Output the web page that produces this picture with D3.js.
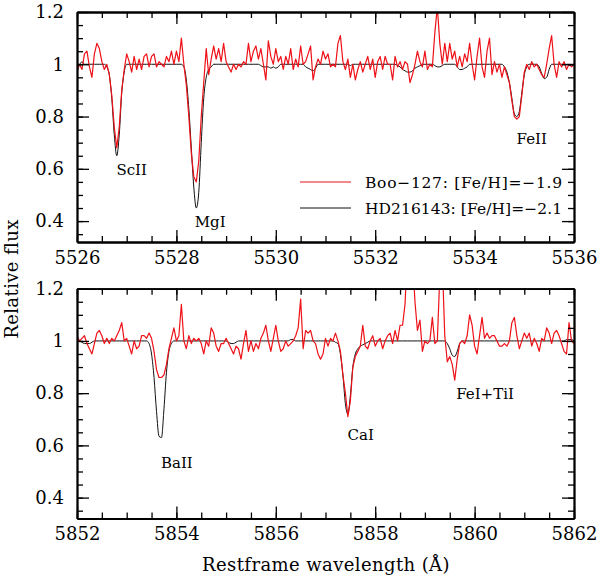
<!DOCTYPE html>
<html>
<head>
<meta charset="utf-8">
<script src="https://cdn.jsdelivr.net/npm/d3@7"></script>
<style>
  body { margin: 0; background: #fff; }
  svg text { font-family: "DejaVu Serif", serif; fill: #000; }
</style>
</head>
<body>
<script>
var step = 0.05;
var topStart = 5526, botStart = 5852;

// Boo-127, 5526-5536 A (one row per Angstrom)
var booTop = [
  0.97,1.00,0.98,1.04,1.05,0.99,0.95,1.04,1.08,1.06,1.01,0.98,1.00,0.96,0.88,0.76,0.68,0.76,0.90,0.98,
  1.04,1.01,0.97,1.03,0.98,1.02,0.98,1.03,1.04,0.99,1.03,1.04,0.99,1.01,1.00,0.99,1.03,1.01,1.05,1.00,
  1.05,1.01,1.10,1.00,0.92,0.80,0.66,0.57,0.55,0.63,0.80,0.93,1.06,0.96,1.02,1.07,1.02,1.06,1.01,1.08,
  1.01,0.99,0.97,1.00,0.98,1.00,0.99,1.01,1.00,1.08,1.01,1.05,1.07,1.02,1.06,1.00,0.94,1.09,1.03,1.00,
  1.06,1.01,1.03,0.98,1.03,1.00,1.06,0.98,1.02,0.99,1.07,1.00,1.01,1.04,1.07,0.94,0.99,1.02,1.00,1.05,
  1.02,1.04,0.99,1.00,0.99,1.08,1.11,1.01,0.98,1.02,0.95,1.00,0.94,0.98,1.01,0.97,1.00,1.03,0.98,1.02,
  0.95,1.01,1.03,0.98,1.03,1.00,1.00,0.94,1.03,0.99,1.01,0.98,1.01,1.00,0.93,0.96,1.00,1.05,1.01,0.99,
  1.05,0.98,1.00,0.99,1.12,1.22,1.08,1.00,1.08,1.01,1.08,1.02,1.05,0.99,1.03,0.99,1.04,1.01,1.08,1.00,
  0.94,1.03,1.10,0.99,0.95,1.05,1.10,0.96,1.01,0.97,1.00,0.95,0.99,0.96,0.93,0.86,0.80,0.79,0.80,0.88,
  0.97,1.00,0.98,1.01,0.99,1.00,0.98,0.96,0.95,1.00,1.06,1.11,1.00,0.95,1.01,0.99,1.01,0.98,1.00,0.99,
  1.00
];
// HD216143, 5526-5536 A
var hdTop = [
  1.00,1.00,1.01,1.00,1.00,1.00,1.00,1.00,1.00,1.00,1.00,1.00,0.99,0.96,0.87,0.73,0.65,0.73,0.89,0.97,
  1.00,1.00,1.00,1.00,1.00,1.00,1.00,1.00,1.00,1.00,1.00,1.00,1.00,1.00,1.00,1.00,1.00,1.00,1.00,1.00,
  1.00,1.00,1.00,0.99,0.94,0.83,0.68,0.53,0.45,0.51,0.70,0.87,0.95,0.98,0.99,1.00,1.00,1.00,1.00,1.00,
  1.00,1.00,1.00,1.00,1.00,1.00,1.00,1.00,1.00,1.00,1.00,1.00,1.00,1.00,0.995,0.99,0.99,0.99,0.985,0.99,
  0.985,0.99,1.00,1.00,1.00,1.00,1.00,1.00,1.00,1.00,1.00,1.00,0.99,0.985,0.98,0.975,0.985,1.00,1.00,1.00,
  1.00,1.00,1.00,1.00,1.00,1.00,1.00,1.00,1.00,1.00,0.995,1.00,1.00,1.00,1.00,1.00,1.00,1.00,1.00,1.00,
  1.00,1.00,1.00,1.00,1.00,1.00,1.00,1.00,1.00,0.995,0.99,0.98,0.975,0.97,0.97,0.975,0.985,0.99,0.995,1.00,
  1.00,1.00,1.00,1.00,0.995,0.99,0.99,0.995,1.00,1.00,1.00,1.00,1.00,0.99,0.98,0.98,0.985,0.99,1.00,1.00,
  1.00,1.00,1.00,1.00,1.00,1.00,1.00,1.00,1.00,1.00,1.00,1.00,0.99,0.97,0.93,0.87,0.81,0.80,0.82,0.89,
  0.96,0.99,1.00,1.00,1.00,1.00,0.99,0.965,0.945,0.95,0.98,1.00,1.00,1.00,1.00,1.00,1.00,1.00,1.00,1.00,
  1.00
];
// Boo-127, 5852-5862 A
var booBot = [
  1.02,1.00,1.01,1.02,0.99,0.97,0.95,0.99,1.03,1.04,1.02,0.99,1.01,0.99,1.01,1.00,1.02,1.04,1.07,1.00,
  1.01,0.98,0.95,1.00,0.97,0.98,1.02,1.02,1.01,1.03,1.01,0.96,0.89,0.86,0.86,0.87,0.91,0.97,1.01,1.05,
  1.00,1.02,1.14,1.00,0.97,1.02,0.99,1.01,1.00,1.01,0.99,0.95,1.00,0.98,1.05,1.03,0.98,0.96,0.99,0.99,
  1.01,0.99,0.97,0.95,0.98,0.97,0.93,0.99,1.04,0.96,1.00,0.96,0.99,0.97,1.01,1.03,1.06,1.00,0.96,1.01,
  1.06,1.00,0.96,0.97,1.00,0.98,0.99,1.00,1.02,1.05,1.16,0.97,1.04,1.03,1.04,1.00,0.99,0.95,0.93,0.95,
  1.01,0.98,1.01,1.00,1.03,1.00,0.96,0.87,0.80,0.71,0.77,0.90,0.94,0.96,0.98,1.06,0.98,0.97,1.00,1.02,
  0.98,1.00,1.01,0.97,1.00,1.02,1.03,0.99,1.04,1.00,1.06,1.06,1.14,1.35,1.30,1.33,1.15,1.04,1.08,0.96,
  1.00,0.99,1.00,1.09,0.99,1.00,1.25,1.30,1.02,0.92,0.94,0.91,0.85,0.93,0.99,1.00,0.99,1.02,1.10,1.06,
  0.98,0.95,1.02,1.09,1.01,1.03,1.01,1.02,1.02,1.00,0.98,0.98,0.99,0.98,1.00,1.07,1.09,1.02,0.97,1.00,
  1.03,1.01,1.03,0.98,1.01,0.99,0.96,1.01,1.00,1.05,1.03,0.99,1.03,1.04,1.02,0.99,0.96,0.95,1.07,1.00,
  0.99
];
// HD216143, 5852-5862 A
var hdBot = [
  1.01,1.00,0.995,0.99,0.99,0.99,0.995,1.00,1.00,1.00,1.00,1.00,1.00,1.00,1.00,1.00,1.00,1.00,1.00,1.00,
  1.00,1.00,1.00,1.00,1.00,1.00,1.00,1.00,1.00,0.99,0.95,0.86,0.73,0.635,0.63,0.74,0.88,0.96,0.99,1.00,
  1.00,1.00,1.00,1.00,1.00,1.00,1.00,1.00,1.00,1.00,1.00,1.00,1.00,1.00,1.00,1.00,1.00,1.00,1.00,1.00,
  1.00,0.995,0.99,0.99,0.995,1.00,1.00,1.00,1.00,1.00,1.00,1.00,1.00,1.00,1.00,1.00,1.00,1.00,1.00,1.00,
  1.00,1.00,1.00,1.00,1.00,1.00,1.005,1.005,1.00,1.00,1.00,1.00,1.00,1.00,1.00,1.00,1.00,1.00,1.00,1.00,
  1.00,1.00,1.00,1.00,0.995,0.99,0.95,0.87,0.76,0.72,0.79,0.90,0.95,0.97,0.98,0.985,0.99,0.995,1.00,1.00,
  1.00,1.00,1.00,1.00,1.00,1.00,1.00,1.00,1.00,1.00,1.00,1.00,1.00,1.00,1.00,1.00,1.00,1.00,1.00,1.00,
  1.00,1.00,1.00,1.00,1.00,1.00,1.00,1.00,1.00,0.99,0.97,0.945,0.94,0.96,0.99,1.00,1.00,1.00,1.00,1.00,
  1.00,1.00,1.00,1.00,1.00,1.00,1.00,1.00,1.00,1.00,1.00,1.00,1.00,1.00,1.00,1.00,1.00,1.00,1.00,1.00,
  1.00,1.00,1.00,1.00,1.00,1.00,1.00,1.00,1.00,1.00,1.00,1.00,1.00,1.00,1.00,1.00,1.00,1.005,1.005,1.005,
  1.00
];

// line identifications: label, wavelength and flux where the label sits
var topIds = ["ScII", "MgI", "FeII"];
var topIdWl = [5527.1, 5528.68, 5535.15];
var topIdFlux = [0.577, 0.378, 0.695];
var botIds = ["BaII", "CaI", "FeI+TiI"];
var botIdWl = [5854.01, 5857.71, 5860.21];
var botIdFlux = [0.515, 0.619, 0.779];

var legendLabels = ["Boo\u2212127: [Fe/H]=\u22121.9", "HD216143: [Fe/H]=\u22122.1"];
var yMajor = [0.4, 0.6, 0.8, 1, 1.2];

var W = 600, H = 578;
var left = 77, right = 574;
var red = "#ee1118";

var svg = d3.select("body").append("svg")
    .attr("width", W)
    .attr("height", H);

function drawPanel(start, boo, hd, ids, idWl, idFlux, top, bottom, name) {
  var x = d3.scaleLinear().domain([start, start + 10]).range([left, right]);
  var y = d3.scaleLinear().domain([0.32, 1.2]).range([bottom, top]);

  svg.append("clipPath").attr("id", "clip-" + name)
    .append("rect")
      .attr("x", left).attr("y", top)
      .attr("width", right - left).attr("height", bottom - top);

  var line = d3.line()
    .x(function(d, i) { return x(start + i * step); })
    .y(function(d) { return y(d); });

  var g = svg.append("g").attr("clip-path", "url(#clip-" + name + ")");
  g.append("path").datum(hd)
    .attr("fill", "none").attr("stroke", "#111").attr("stroke-width", 1)
    .attr("d", line.curve(d3.curveMonotoneX));
  g.append("path").datum(boo)
    .attr("fill", "none").attr("stroke", red).attr("stroke-width", 1.2)
    .attr("stroke-linejoin", "round")
    .attr("d", line.curve(d3.curveLinear));

  // ticks: major labelled, minor plain, all pointing inwards
  var xMajor = d3.range(0, 6).map(function(i) { return start + 2 * i; });
  var xMinor = d3.range(0, 21).map(function(i) { return start + 0.5 * i; });
  var yMinor = d3.range(7, 24).map(function(i) { return i * 0.05; });

  function styleAxis(sel) {
    sel.selectAll("path.domain").attr("stroke", "#000").attr("stroke-width", 1.8);
    sel.selectAll(".tick line").attr("stroke", "#000").attr("stroke-width", 1.3);
    sel.selectAll("text").attr("font-size", 18).attr("font-family", "DejaVu Serif");
  }

  svg.append("g").attr("transform", "translate(0," + bottom + ")")
    .call(d3.axisBottom(x).tickValues(xMinor).tickSizeInner(-6).tickSizeOuter(0).tickFormat(""))
    .call(styleAxis);
  svg.append("g").attr("transform", "translate(0," + bottom + ")")
    .call(d3.axisBottom(x).tickValues(xMajor).tickSizeInner(-12).tickSizeOuter(0)
      .tickPadding(9).tickFormat(d3.format("d")))
    .call(styleAxis);
  svg.append("g").attr("transform", "translate(0," + top + ")")
    .call(d3.axisTop(x).tickValues(xMinor).tickSizeInner(-6).tickSizeOuter(0).tickFormat(""))
    .call(styleAxis);
  svg.append("g").attr("transform", "translate(0," + top + ")")
    .call(d3.axisTop(x).tickValues(xMajor).tickSizeInner(-12).tickSizeOuter(0).tickFormat(""))
    .call(styleAxis);

  svg.append("g").attr("transform", "translate(" + left + ",0)")
    .call(d3.axisLeft(y).tickValues(yMinor).tickSizeInner(-6).tickSizeOuter(0).tickFormat(""))
    .call(styleAxis);
  svg.append("g").attr("transform", "translate(" + left + ",0)")
    .call(d3.axisLeft(y).tickValues(yMajor).tickSizeInner(-12).tickSizeOuter(0)
      .tickPadding(13).tickFormat(d3.format("~g")))
    .call(styleAxis);
  svg.append("g").attr("transform", "translate(" + right + ",0)")
    .call(d3.axisRight(y).tickValues(yMinor).tickSizeInner(-6).tickSizeOuter(0).tickFormat(""))
    .call(styleAxis);
  svg.append("g").attr("transform", "translate(" + right + ",0)")
    .call(d3.axisRight(y).tickValues(yMajor).tickSizeInner(-12).tickSizeOuter(0).tickFormat(""))
    .call(styleAxis);

  svg.append("g").selectAll("text").data(ids).enter().append("text")
    .attr("x", function(d, i) { return x(idWl[i]); })
    .attr("y", function(d, i) { return y(idFlux[i]); })
    .attr("text-anchor", "middle")
    .attr("font-size", 15)
    .text(function(d) { return d; });

  return { x: x, y: y };
}

drawPanel(topStart, booTop, hdTop, topIds, topIdWl, topIdFlux, 12, 242, "top");
drawPanel(botStart, booBot, hdBot, botIds, botIdWl, botIdFlux, 288.7, 518.5, "bot");

// legend (top panel)
var legend = svg.append("g");
var legendColors = [red, "#111"];
legend.selectAll("line").data(legendLabels).enter().append("line")
  .attr("x1", 300).attr("x2", 351)
  .attr("y1", function(d, i) { return 182 + i * 26; })
  .attr("y2", function(d, i) { return 182 + i * 26; })
  .attr("stroke", function(d, i) { return legendColors[i]; })
  .attr("stroke-width", function(d, i) { return i === 0 ? 1.2 : 1; });
legend.selectAll("text").data(legendLabels).enter().append("text")
  .attr("x", 365)
  .attr("y", function(d, i) { return 188 + i * 26; })
  .attr("font-size", 15.5)
  .attr("textLength", 197)
  .attr("lengthAdjust", "spacing")
  .text(function(d) { return d; });

// axis titles
svg.append("text")
  .attr("transform", "translate(18,279) rotate(-90)")
  .attr("text-anchor", "middle")
  .attr("font-size", 18)
  .attr("letter-spacing", 0.4)
  .text("Relative flux");
svg.append("text")
  .attr("x", 326).attr("y", 571)
  .attr("text-anchor", "middle")
  .attr("font-size", 18)
  .attr("letter-spacing", 0.4)
  .text("Restframe wavelength (\u00c5)");
</script>
</body>
</html>
